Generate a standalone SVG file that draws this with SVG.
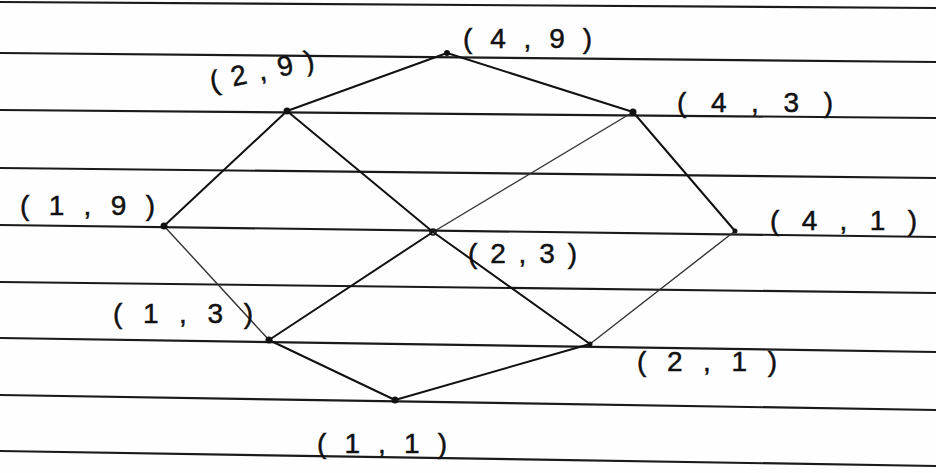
<svg xmlns="http://www.w3.org/2000/svg" width="936" height="473" viewBox="0 0 936 473">
<style>
.rule{stroke:#1a1a1a;stroke-width:2.2;fill:none}
.edge{stroke:#111;stroke-width:2;fill:none;stroke-linecap:round}
.thin{stroke:#333;stroke-width:1.4}
.dot{fill:#111}
.lbl{font-family:"Liberation Sans","DejaVu Sans",sans-serif;font-size:28px;fill:#111;stroke:#111;stroke-width:0.5}
</style>
<rect width="936" height="473" fill="#fefefe"/>
<g id="ruled-lines">
<line class="rule" x1="0" y1="2" x2="936" y2="8"/>
<line class="rule" x1="0" y1="53" x2="936" y2="62"/>
<line class="rule" x1="0" y1="110" x2="936" y2="118"/>
<line class="rule" x1="0" y1="168" x2="936" y2="178"/>
<line class="rule" x1="0" y1="225" x2="936" y2="237"/>
<line class="rule" x1="0" y1="282" x2="936" y2="293"/>
<line class="rule" x1="0" y1="338" x2="936" y2="352"/>
<line class="rule" x1="0" y1="395" x2="936" y2="410"/>
<line class="rule" x1="0" y1="451" x2="936" y2="466"/>
</g>
<g id="connectors">
<line class="edge" x1="447" y1="53" x2="287" y2="111"/>
<line class="edge" x1="447" y1="53" x2="633" y2="112"/>
<line class="edge" x1="287" y1="111" x2="164" y2="226"/>
<line class="edge" x1="287" y1="111" x2="433" y2="232"/>
<line class="edge thin" x1="633" y1="112" x2="433" y2="232"/>
<line class="edge" x1="633" y1="112" x2="735" y2="231"/>
<line class="edge thin" x1="164" y1="226" x2="269" y2="340"/>
<line class="edge" x1="433" y1="232" x2="269" y2="340"/>
<line class="edge" x1="433" y1="232" x2="590" y2="344"/>
<line class="edge thin" x1="735" y1="231" x2="590" y2="344"/>
<line class="edge" x1="269" y1="340" x2="395" y2="400"/>
<line class="edge" x1="590" y1="344" x2="395" y2="400"/>
</g>
<g id="n49"><circle class="dot" cx="447" cy="53" r="3"/><text class="lbl" x="463" y="48" textLength="129" lengthAdjust="spacing">(4,9)</text></g>
<g id="n29"><circle class="dot" cx="287" cy="111" r="3.5"/><text class="lbl" x="212" y="91" textLength="106" lengthAdjust="spacing" transform="rotate(-12 212 91)">(2,9)</text></g>
<g id="n43"><circle class="dot" cx="633" cy="112" r="3.5"/><text class="lbl" x="677" y="112" textLength="156" lengthAdjust="spacing">(4,3)</text></g>
<g id="n19"><circle class="dot" cx="164" cy="226" r="3.5"/><text class="lbl" x="20" y="215" textLength="135" lengthAdjust="spacing">(1,9)</text></g>
<g id="n23"><circle cx="433" cy="232" r="3" fill="none" stroke="#111" stroke-width="1.5"/><text class="lbl" x="468" y="263" textLength="109" lengthAdjust="spacing">(2,3)</text></g>
<g id="n41"><circle class="dot" cx="735" cy="231" r="2.5"/><text class="lbl" x="770" y="230" textLength="147" lengthAdjust="spacing">(4,1)</text></g>
<g id="n13"><circle class="dot" cx="269" cy="340" r="3.5"/><text class="lbl" x="113" y="323" textLength="140" lengthAdjust="spacing">(1,3)</text></g>
<g id="n21"><circle class="dot" cx="590" cy="344" r="2.5"/><text class="lbl" x="637" y="371" textLength="140" lengthAdjust="spacing">(2,1)</text></g>
<g id="n11"><circle class="dot" cx="395" cy="400" r="3.5"/><text class="lbl" x="317" y="453" textLength="130" lengthAdjust="spacing">(1,1)</text></g>
</svg>
